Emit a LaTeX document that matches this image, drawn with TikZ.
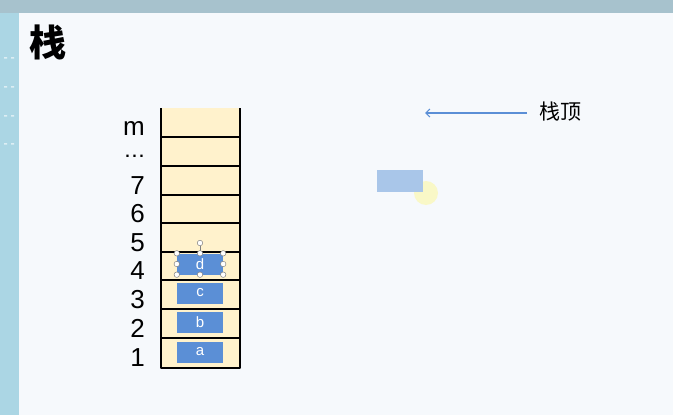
\documentclass[tikz,border=0pt]{standalone}
\usepackage{fontspec}
\setmainfont{Liberation Sans}
\newfontfamily\cjk{Noto Sans CJK SC}
\usetikzlibrary{arrows.meta}
\definecolor{topband}{HTML}{A7C2CD}
\definecolor{sideband}{HTML}{ABD6E4}
\definecolor{slide}{HTML}{F6F9FC}
\definecolor{cellfill}{HTML}{FFF2CC}
\definecolor{elemblue}{HTML}{5B8FD6}
\definecolor{ghostblue}{HTML}{A9C6E9}
\begin{document}
\begin{tikzpicture}[x=1pt,y=-1pt,line join=round,
    elem/.style={fill=elemblue,text=white,minimum width=46pt,minimum height=21pt,inner sep=0pt,font=\fontsize{15}{15}\selectfont},
    idx/.style={anchor=base east,inner sep=0pt,font=\fontsize{26}{26}\selectfont},
    handle/.style={circle,draw=gray,fill=white,inner sep=0pt,minimum size=5.5pt,line width=.5pt}]
  \useasboundingbox (0,0) rectangle (673,415);
  \fill[topband] (0,0) rectangle (673,415);
  \fill[sideband] (0,13) rectangle (19,415);
  \fill[slide] (19,13) rectangle (673,415);
  \foreach \y in {57,86,115,143}
    \fill[white,opacity=.6] (4,\y) rectangle (7,\y+1.5) (11,\y) rectangle (14,\y+1.5);
  \node[anchor=north west,inner sep=0pt,font=\cjk\bfseries\fontsize{37}{37}\selectfont] (title) at (29,25) {栈};
  % stack cells
  \fill[cellfill] (161,108) rectangle (240,368);
  \draw[line width=1.4pt] (161,108) -- (161,368) -- (240,368) -- (240,108);
  \foreach \y in {137,166,195,223,252,280,309,338}
    \draw[line width=1.4pt] (161,\y) -- (240,\y);
  \foreach \n/\y in {1/366,2/337,3/308,4/279,5/251,6/222,7/194,m/135}
    \node[idx] (lbl\n) at (145,\y) {\n};
  \node[idx,text height=3pt,text depth=0pt,font=\bfseries\fontsize{16}{16}\selectfont] (lbldots) at (144,157) {.\hspace{2.5pt}.\hspace{2.5pt}.};
  % elements
  \node[elem] (ea) at (200,352) {a};
  \node[elem] (eb) at (200,322) {b};
  \node[elem] (ec) at (200,293) {c};
  \node[elem] (ed) at (200,264) {d};
  \node[handle] (rot) at (200,243) {};
  \draw[gray,line width=.5pt] (ed.north) -- (rot);
  \foreach \a in {north west,north,north east,east,south east,south,south west,west}
    \node[handle] at (ed.\a) {};
  % pointer
  \node[anchor=west,inner sep=0pt,font=\cjk\fontsize{21}{21}\selectfont] (toplbl) at (539,112) {栈顶};
  \coordinate (tail) at (527,113);
  \coordinate (ptr) at (425,113);
  \draw[-{Straight Barb[length=4pt,width=8pt]},elemblue,line width=1.2pt] (tail) -- (ptr);
  \fill[yellow!60,opacity=.35] (426,193) circle (12);
  \node[fill=ghostblue,minimum width=46pt,minimum height=22pt,inner sep=0pt] (ghost) at (400,181) {};
\end{tikzpicture}
\end{document}
